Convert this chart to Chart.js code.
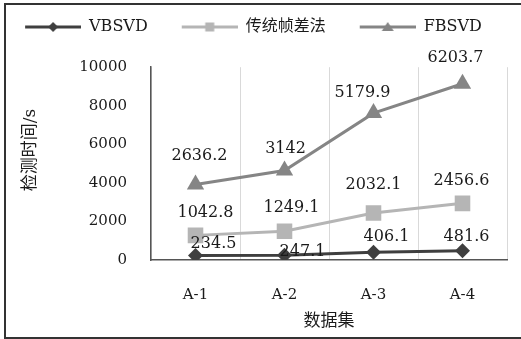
<!DOCTYPE html>
<html>
<head>
<meta charset="utf-8">
<script src="https://cdn.jsdelivr.net/npm/chart.js@4/dist/chart.umd.min.js"></script>
<style>
  html, body { margin: 0; padding: 0; background: #fff; }
  #wrap { position: relative; width: 521px; height: 339px; overflow: hidden; }
  #frame { position: absolute; left: 4px; top: 3px; width: 600px; height: 332px;
           border: 2px solid #333; border-right: none; }
  #chart { position: absolute; left: 0; top: 0; }
</style>
</head>
<body>
<div id="wrap">
  <div id="frame"></div>
  <canvas id="chart" width="521" height="339"></canvas>
</div>
<script>
// data (lines are stacked, labels show raw values)
const categories = ['A-1', 'A-2', 'A-3', 'A-4'];
const vbsvd = [234.5, 247.1, 406.1, 481.6];
const frameDiff = [1042.8, 1249.1, 2032.1, 2456.6];
const fbsvd = [2636.2, 3142, 5179.9, 6203.7];
const seriesNames = ['VBSVD', '传统帧差法', 'FBSVD'];
const yMax = 10000;
const yStep = 2000;

const FONT = "'DejaVu Serif', 'Noto Sans CJK SC', serif";
const TEXT = '#1a1a1a';
const colors = ['#3f3f3f', '#b5b5b5', '#858585'];

// where each value label sits relative to its point
const labelOffsets = [
  [[18, -12], [18, -3], [13, -15], [4, -14]],
  [[10, -23], [7, -23], [0, -28], [-1, -23]],
  [[4, -29], [1, -22], [-11, -20], [-7, -26]]
];

// legend symbol: line with marker, with some empty room on the left as gap
const SYM_GAP = 20;
function legendSymbol(color, kind) {
  const c = document.createElement('canvas');
  c.width = 56 + SYM_GAP; c.height = 20;
  const g = c.getContext('2d');
  g.translate(SYM_GAP, 0);
  g.strokeStyle = color;
  g.fillStyle = color;
  g.lineWidth = 3;
  g.beginPath(); g.moveTo(0, 10); g.lineTo(56, 10); g.stroke();
  g.beginPath();
  if (kind === 'diamond') {
    g.moveTo(28, 5); g.lineTo(33, 10); g.lineTo(28, 15); g.lineTo(23, 10);
  } else if (kind === 'square') {
    g.rect(23.5, 5.5, 9, 9);
  } else {
    g.moveTo(28, 5); g.lineTo(34, 14); g.lineTo(22, 14);
  }
  g.closePath();
  g.fill();
  return c;
}
const symbols = [
  legendSymbol(colors[0], 'diamond'),
  legendSymbol(colors[1], 'square'),
  legendSymbol(colors[2], 'triangle')
];

const valueLabels = {
  id: 'valueLabels',
  afterDatasetsDraw(chart) {
    const ctx = chart.ctx;
    ctx.save();
    ctx.font = '16px ' + FONT;
    ctx.fillStyle = TEXT;
    ctx.textAlign = 'center';
    ctx.textBaseline = 'middle';
    chart.data.datasets.forEach((ds, di) => {
      chart.getDatasetMeta(di).data.forEach((pt, i) => {
        const [dx, dy] = labelOffsets[di][i];
        ctx.fillText(String(ds.data[i]), pt.x + dx, pt.y + dy);
      });
    });
    ctx.restore();
  }
};

function lineSet(label, data, color, style, radius) {
  return {
    label: label,
    data: data,
    borderColor: color,
    backgroundColor: color,
    borderWidth: 3,
    tension: 0,
    pointStyle: style,
    pointRadius: radius,
    pointBorderWidth: 0,
    pointBackgroundColor: color
  };
}

new Chart(document.getElementById('chart'), {
  type: 'line',
  data: {
    labels: categories,
    datasets: [
      lineSet(seriesNames[0], vbsvd, colors[0], 'rectRot', 7.5),
      lineSet(seriesNames[1], frameDiff, colors[1], 'rect', 11),
      lineSet(seriesNames[2], fbsvd, colors[2], 'triangle', 10)
    ]
  },
  options: {
    responsive: false,
    animation: false,
    // negative left padding pulls the centred legend a bit to the left
    layout: { padding: { top: 5, right: 14, left: -20, bottom: 0 } },
    plugins: {
      tooltip: { enabled: false },
      // empty title used as a spacer between legend and plot
      title: {
        display: true, text: ' ', weight: 500,
        font: { size: 1 }, padding: { top: 0, bottom: 21 }
      },
      legend: {
        position: 'top',
        labels: {
          usePointStyle: true,
          pointStyleWidth: 56 + SYM_GAP,
          padding: 14,
          color: TEXT,
          font: { family: FONT, size: 16 },
          generateLabels: chart => chart.data.datasets.map((ds, i) => ({
            text: ds.label,
            pointStyle: symbols[i],
            fontColor: TEXT,
            fillStyle: 'transparent',
            strokeStyle: 'transparent',
            lineWidth: 0,
            hidden: false,
            datasetIndex: i
          }))
        }
      }
    },
    scales: {
      x: {
        offset: true,
        grid: { offset: true, color: '#d9d9d9', lineWidth: 1, drawTicks: false },
        border: { display: true, color: '#555', width: 1.5 },
        ticks: { color: TEXT, font: { family: FONT, size: 15 }, padding: 26 },
        title: {
          display: true, text: '数据集', color: TEXT,
          font: { family: FONT, size: 17 }, padding: { top: 0, bottom: 7 }
        },
        afterFit: s => { s.height = 79; }
      },
      y: {
        stacked: true,
        min: 0,
        max: yMax,
        grid: { drawOnChartArea: false, drawTicks: false },
        border: { display: true, color: '#555', width: 1.5 },
        ticks: {
          stepSize: yStep, color: TEXT, font: { family: FONT, size: 15 }, padding: 24,
          callback: v => String(v)
        },
        title: {
          display: true, text: '     检测时间/s', color: TEXT,
          font: { family: FONT, size: 17 }, padding: { top: 40, bottom: 0 }
        },
        afterFit: s => { s.width = 171; }
      }
    }
  },
  plugins: [valueLabels]
});
</script>
</body>
</html>
